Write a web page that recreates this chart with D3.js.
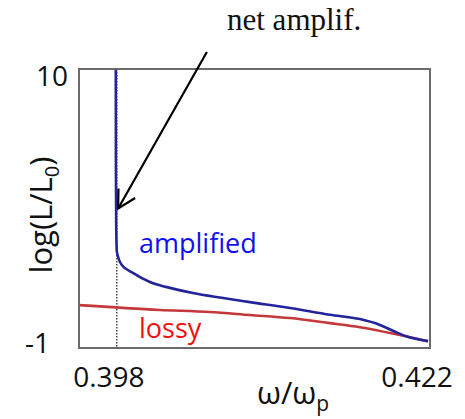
<!DOCTYPE html>
<html>
<head>
<meta charset="utf-8">
<script src="https://cdn.jsdelivr.net/npm/d3@7"></script>
<style>
  html, body { margin: 0; padding: 0; background: #fff; }
  svg { display: block; }
</style>
</head>
<body>
<svg id="chart" width="465" height="419"></svg>
<script>
// ---- data ----
const xTicks = [0.398, 0.422];
const yTicks = [-1, 10];
const amplifiedOmega = [0.39792, 0.39793, 0.39795, 0.39800, 0.39838, 0.39923, 0.40053, 0.40183, 0.40383, 0.40590, 0.40820, 0.41127, 0.41433, 0.41663, 0.41816, 0.41932, 0.42024, 0.42185];
const amplifiedLogL = [10, 6, 3.9, 2.8, 2.27, 1.96, 1.60, 1.40, 1.17, 0.99, 0.81, 0.58, 0.31, 0.14, -0.09, -0.36, -0.55, -0.73];
const lossyOmega = [0.39509, 0.40130, 0.40513, 0.40820, 0.41127, 0.41433, 0.41663, 0.41970, 0.42185];
const lossyLogL = [0.69, 0.50, 0.42, 0.30, 0.18, -0.02, -0.18, -0.49, -0.73];
const markerOmega = 0.398;          // dotted vertical line
const arrowFrom = [0.4049, 10.67];  // annotation arrow tail (omega, logL)
const arrowTo = [0.3981, 4.5];      // annotation arrow tip

// ---- layout ----
const svg = d3.select("#chart");
const mLeft = 79, mRight = 430, mTop = 69, mBottom = 348;
const x = d3.scaleLinear().domain([0.3951, 0.422]).range([mLeft, mRight]);
const y = d3.scaleLinear().domain([-1, 10]).range([mBottom, mTop]);

const sans = "'Open Sans', 'Liberation Sans', sans-serif";

// clip
svg.append("clipPath").attr("id", "clip")
  .append("rect").attr("x", mLeft).attr("y", mTop)
  .attr("width", mRight - mLeft).attr("height", mBottom - mTop);

// dotted marker line
svg.append("line")
  .attr("x1", x(markerOmega)).attr("x2", x(markerOmega))
  .attr("y1", y(10)).attr("y2", y(-1))
  .attr("stroke", "#000").attr("stroke-width", 1.1)
  .attr("stroke-dasharray", "1.5,1.5");

const line = d3.line().curve(d3.curveMonotoneX).x(d => x(d[0])).y(d => y(d[1]));

const lossy = lossyOmega.map((w, i) => [w, lossyLogL[i]]);
const amplified = amplifiedOmega.map((w, i) => [w, amplifiedLogL[i]]);

svg.append("path").datum(lossy)
  .attr("clip-path", "url(#clip)")
  .attr("d", line).attr("fill", "none")
  .attr("stroke", "#c4373a").attr("stroke-width", 2.6);

svg.append("path").datum(amplified)
  .attr("clip-path", "url(#clip)")
  .attr("d", line).attr("fill", "none")
  .attr("stroke", "#24249a").attr("stroke-width", 2.6);

// frame
svg.append("rect")
  .attr("x", mLeft).attr("y", mTop)
  .attr("width", mRight - mLeft).attr("height", mBottom - mTop)
  .attr("fill", "none").attr("stroke", "#6b6b6b").attr("stroke-width", 2);

// y tick labels
const yOffsets = { "10": [68, 17], "-1": [50, 5] };
svg.selectAll(".ytick").data(yTicks).enter().append("text")
  .attr("x", d => yOffsets[String(d)][0])
  .attr("y", d => y(d) + yOffsets[String(d)][1])
  .attr("text-anchor", "end")
  .attr("font-family", sans).attr("font-size", 28).attr("fill", "#111")
  .text(d => String(d));

// x tick labels
const xOffsets = { "0.398": -8, "0.422": -13 };
svg.selectAll(".xtick").data(xTicks).enter().append("text")
  .attr("x", d => x(d) + xOffsets[d.toFixed(3)])
  .attr("y", 387)
  .attr("text-anchor", "middle")
  .attr("font-family", sans).attr("font-size", 28).attr("fill", "#111")
  .text(d => d.toFixed(3));

// x axis title  ω/ωp
const xt = svg.append("text")
  .attr("x", 293).attr("y", 404).attr("text-anchor", "middle")
  .attr("font-family", sans).attr("font-size", 31).attr("fill", "#111");
xt.append("tspan").text("ω/ω");
xt.append("tspan").attr("font-size", 21).attr("dy", 7).text("p");

// y axis title log(L/L0)
const yt = svg.append("text")
  .attr("transform", "translate(52,215) rotate(-90)")
  .attr("text-anchor", "middle")
  .attr("font-family", sans).attr("font-size", 31).attr("fill", "#111");
yt.append("tspan").text("log(L/L");
yt.append("tspan").attr("font-size", 20).attr("dy", 7).text("0");
yt.append("tspan").attr("dy", -7).text(")");

// series labels
svg.append("text").attr("x", 139).attr("y", 253)
  .attr("font-family", sans).attr("font-size", 27).attr("fill", "#1010ee")
  .text("amplified");
svg.append("text").attr("x", 139).attr("y", 338)
  .attr("font-family", sans).attr("font-size", 27).attr("fill", "#ee1111")
  .text("lossy");

// annotation
svg.append("text").attr("x", 227).attr("y", 30)
  .attr("font-family", "'Liberation Serif', 'Times New Roman', serif")
  .attr("font-size", 31).attr("fill", "#111")
  .text("net amplif.");

const ax1 = x(arrowFrom[0]), ay1 = y(arrowFrom[1]);
const ax2 = x(arrowTo[0]), ay2 = y(arrowTo[1]);
svg.append("line")
  .attr("x1", ax1).attr("y1", ay1).attr("x2", ax2).attr("y2", ay2)
  .attr("stroke", "#000").attr("stroke-width", 2.2);
const ang = Math.atan2(ay1 - ay2, ax1 - ax2);
const headLen = 20, spread = 0.5;
const p1 = [ax2 + headLen * Math.cos(ang + spread), ay2 + headLen * Math.sin(ang + spread)];
const p2 = [ax2 + headLen * Math.cos(ang - spread), ay2 + headLen * Math.sin(ang - spread)];
svg.append("path")
  .attr("d", `M${p1[0]},${p1[1]}L${ax2},${ay2}L${p2[0]},${p2[1]}`)
  .attr("fill", "none").attr("stroke", "#000").attr("stroke-width", 2.2);
</script>
</body>
</html>
